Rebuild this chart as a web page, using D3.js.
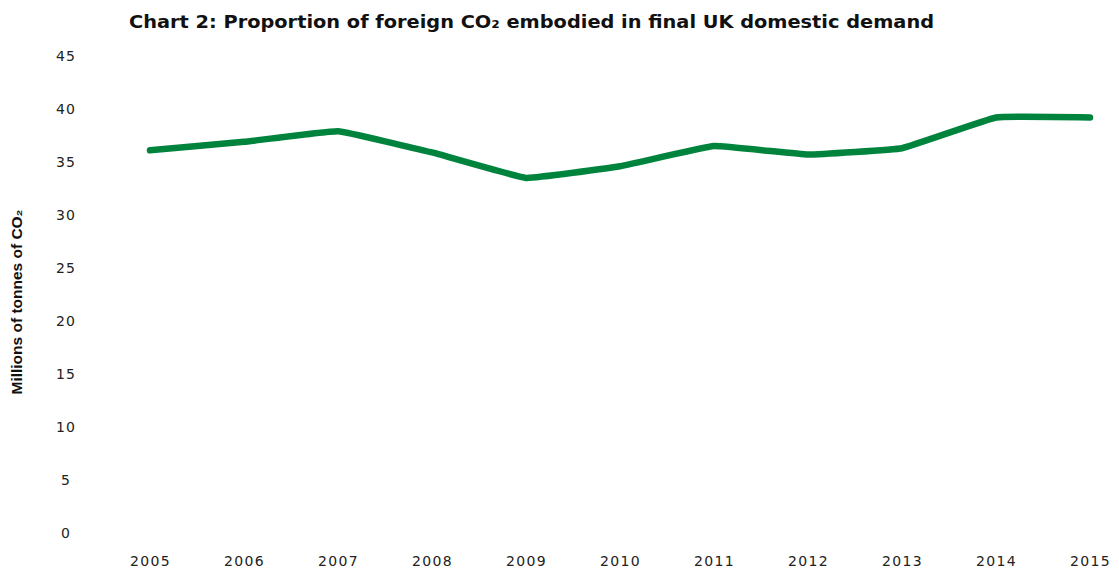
<!DOCTYPE html>
<html>
<head>
<meta charset="utf-8">
<script src="https://cdn.jsdelivr.net/npm/d3@7"></script>
<style>
  body { margin: 0; background: #fff; }
  text { font-family: "DejaVu Sans", sans-serif; }
</style>
</head>
<body>
<div id="cont"></div>
<script>
// Data
var years = [2005, 2006, 2007, 2008, 2009, 2010, 2011, 2012, 2013, 2014, 2015];
var values = [36.1, 36.9, 37.9, 35.9, 33.5, 34.6, 36.5, 35.7, 36.3, 39.2, 39.2];
var yTicks = [0, 5, 10, 15, 20, 25, 30, 35, 40, 45];

var width = 1119, height = 570;
var green = "#00843d";

var svg = d3.select("#cont").append("svg")
    .attr("width", width)
    .attr("height", height);

var x = d3.scalePoint()
    .domain(years)
    .range([150, 1090]);

var y = d3.scaleLinear()
    .domain([0, 45])
    .range([533, 56]);

// title
svg.append("text")
    .attr("x", 129)
    .attr("y", 28)
    .attr("font-size", 17.5)
    .attr("font-weight", "bold")
    .attr("fill", "#111")
    .attr("textLength", 805)
    .attr("lengthAdjust", "spacingAndGlyphs")
    .text("Chart 2: Proportion of foreign CO\u2082 embodied in final UK domestic demand");

// y axis labels
var yAxis = d3.axisLeft(y).tickValues(yTicks).tickSize(0).tickPadding(0);
var gy = svg.append("g")
    .attr("transform", "translate(66,0)")
    .call(yAxis);
gy.select(".domain").remove();
gy.selectAll("text")
    .attr("text-anchor", "middle")
    .attr("x", 0)
    .attr("font-size", 14)
    .attr("fill", "#222")
    .style("font-family", "'DejaVu Sans', sans-serif")
    .style("letter-spacing", "1.2px");

// x axis labels
var xAxis = d3.axisBottom(x).tickSize(0).tickPadding(0);
var gx = svg.append("g")
    .attr("transform", "translate(0,562)")
    .call(xAxis);
gx.select(".domain").remove();
gx.selectAll("text")
    .attr("dy", 0)
    .attr("y", 0)
    .attr("font-size", 14)
    .attr("fill", "#222")
    .style("font-family", "'DejaVu Sans', sans-serif")
    .style("letter-spacing", "1.3px")
    .attr("dominant-baseline", "middle");

// y axis title
svg.append("text")
    .attr("transform", "translate(22,302) rotate(-90)")
    .attr("text-anchor", "middle")
    .attr("font-size", 15)
    .attr("font-weight", "bold")
    .attr("fill", "#111")
    .attr("textLength", 185)
    .attr("lengthAdjust", "spacingAndGlyphs")
    .style("font-family", "'Liberation Sans Narrow', 'Arial Narrow', 'Liberation Sans', sans-serif")
    .text("Millions of tonnes of CO\u2082");

// line
var line = d3.line()
    .x(function(d, i) { return x(years[i]); })
    .y(function(d) { return y(d); })
    .curve(d3.curveCardinal.tension(0.75));

svg.append("path")
    .datum(values)
    .attr("d", line)
    .attr("fill", "none")
    .attr("stroke", green)
    .attr("stroke-width", 6.5)
    .attr("stroke-linecap", "round")
    .attr("stroke-linejoin", "round");
</script>
</body>
</html>
